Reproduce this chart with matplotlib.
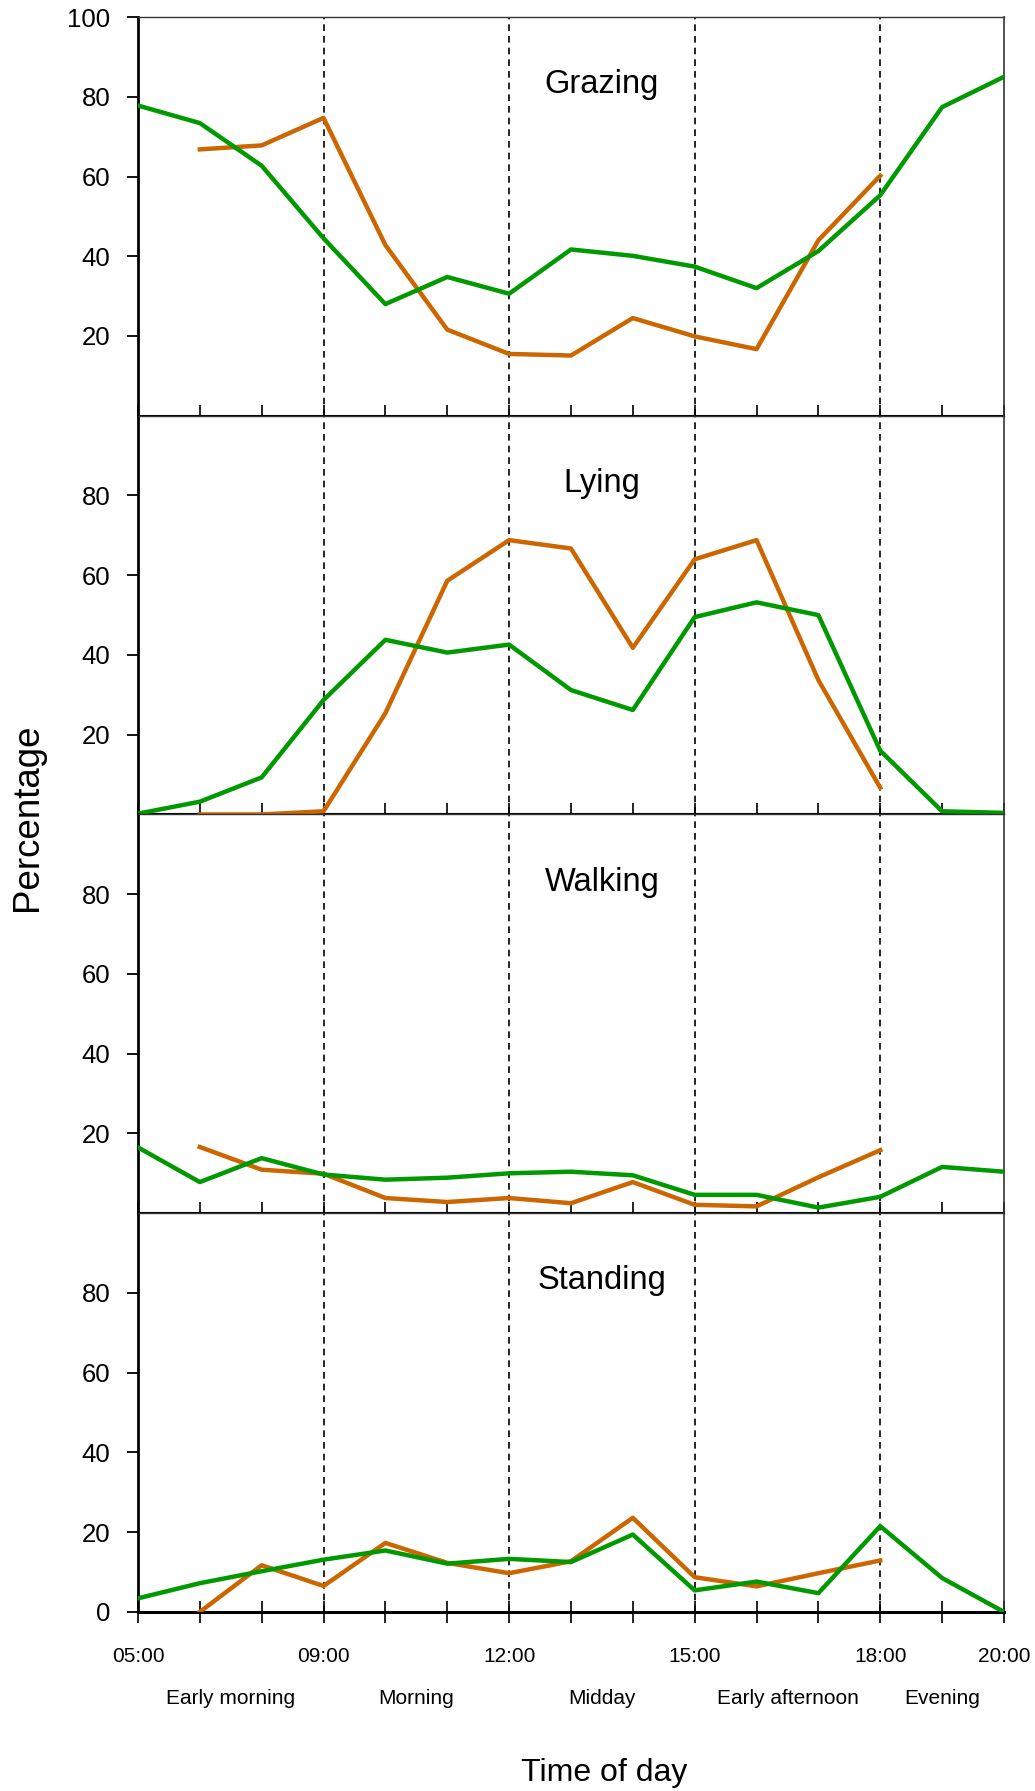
import matplotlib
matplotlib.use("Agg")
import matplotlib.pyplot as plt
import matplotlib.transforms as mtransforms
import numpy as np

plt.rcParams['font.family'] = ['Liberation Sans', 'DejaVu Sans']

# hourly slots 05:00 .. 20:00 (15 observation points)
slots = np.arange(15)
tick_pos = [0, 3, 6, 9, 12, 14]
tick_labels = ["05:00", "09:00", "12:00", "15:00", "18:00", "20:00"]
period_boundaries = [3, 6, 9, 12]
periods = ["Early morning", "Morning", "Midday", "Early afternoon", "Evening"]
period_x = [1.5, 4.5, 7.5, 10.5, 13.0]

behaviours = ["Grazing", "Lying", "Walking", "Standing"]

# green series: full day 05:00-20:00
grazing_g = [77.8, 73.4, 62.7, 44.5, 28.0, 34.8, 30.6, 41.7, 40.1, 37.4, 32.0, 41.3, 55.3, 77.4, 85.0]
lying_g = [0.2, 3.2, 9.3, 28.7, 43.8, 40.6, 42.6, 31.2, 26.2, 49.5, 53.2, 50.0, 16.0, 0.8, 0.4]
walking_g = [16.5, 7.8, 13.8, 9.7, 8.4, 8.9, 10.0, 10.4, 9.5, 4.6, 4.6, 1.4, 4.1, 11.6, 10.4]
standing_g = [3.4, 7.2, 10.2, 13.1, 15.4, 12.1, 13.3, 12.5, 19.4, 5.4, 7.6, 4.7, 21.5, 8.5, 0.0]

# orange series: 06:00-18:00 only
grazing_o = [66.8, 67.8, 74.7, 42.8, 21.6, 15.5, 15.1, 24.5, 19.9, 16.7, 44.0, 60.2]
lying_o = [0.0, 0.0, 0.8, 25.4, 58.6, 68.8, 66.7, 41.8, 64.0, 68.8, 33.7, 6.7]
walking_o = [16.6, 10.9, 9.9, 3.8, 2.8, 3.8, 2.5, 7.8, 2.1, 1.7, 9.0, 15.8]
standing_o = [0.0, 11.7, 6.5, 17.3, 12.3, 9.7, 12.7, 23.6, 8.7, 6.4, 9.7, 12.9]

green = [grazing_g, lying_g, walking_g, standing_g]
orange = [grazing_o, lying_o, walking_o, standing_o]

col_g = "#009900"
col_o = "#cc6600"

fig, axes = plt.subplots(4, 1, sharex=True, figsize=(10.35, 17.91), dpi=100)
fig.subplots_adjust(left=0.1333, right=0.970, top=0.9905, bottom=0.1, hspace=0)

for k, ax in enumerate(axes):
    for b in period_boundaries:
        ax.axvline(b, color="black", lw=1.2, ls=(0, (4, 3)), zorder=1)
    ax.plot(slots[1:13], orange[k], color=col_o, lw=3.2, zorder=3)
    ax.plot(slots, green[k], color=col_g, lw=3.2, zorder=4)
    ax.set_xlim(0, 14)
    ax.set_ylim(0, 100)
    ax.text(7.5, 83, behaviours[k], ha="center", va="center", fontsize=23.5)

    if k == 0:
        ax.set_yticks([20, 40, 60, 80, 100])
    elif k == 3:
        ax.set_yticks([0, 20, 40, 60, 80])
    else:
        ax.set_yticks([20, 40, 60, 80])
    ax.tick_params(axis="y", direction="out", length=8, width=1.3, labelsize=18.5, pad=12)

    ax.spines["left"].set_linewidth(2.0)
    ax.spines["top"].set_linewidth(1.0)
    ax.spines["top"].set_color("#333333")
    ax.spines["right"].set_linewidth(1.2)
    ax.spines["right"].set_color("#333333")
    ax.spines["bottom"].set_linewidth(1.5)
    ax.set_xticks(slots)
    if k < 3:
        ax.tick_params(axis="x", direction="in", length=8, width=1.2, labelbottom=False)

bottom = axes[-1]
bottom.spines["bottom"].set_linewidth(2.2)
bottom.set_xticks(slots)
bottom.set_xticklabels([tick_labels[tick_pos.index(i)] if i in tick_pos else "" for i in slots])
bottom.tick_params(axis="x", direction="inout", length=16, width=1.2, labelsize=15, pad=17)

trans = mtransforms.blended_transform_factory(bottom.transData, fig.transFigure)
for x, name in zip(period_x, periods):
    fig.text(x, 0.0519, name, transform=trans, ha="center", va="center", fontsize=15)

fig.text(0.5836, 0.0100, "Time of day", ha="center", va="center", fontsize=23)
fig.text(0.0266, 0.5438, "Percentage", ha="center", va="center", rotation=90, fontsize=26.5)

plt.savefig("out.png", dpi=100)
